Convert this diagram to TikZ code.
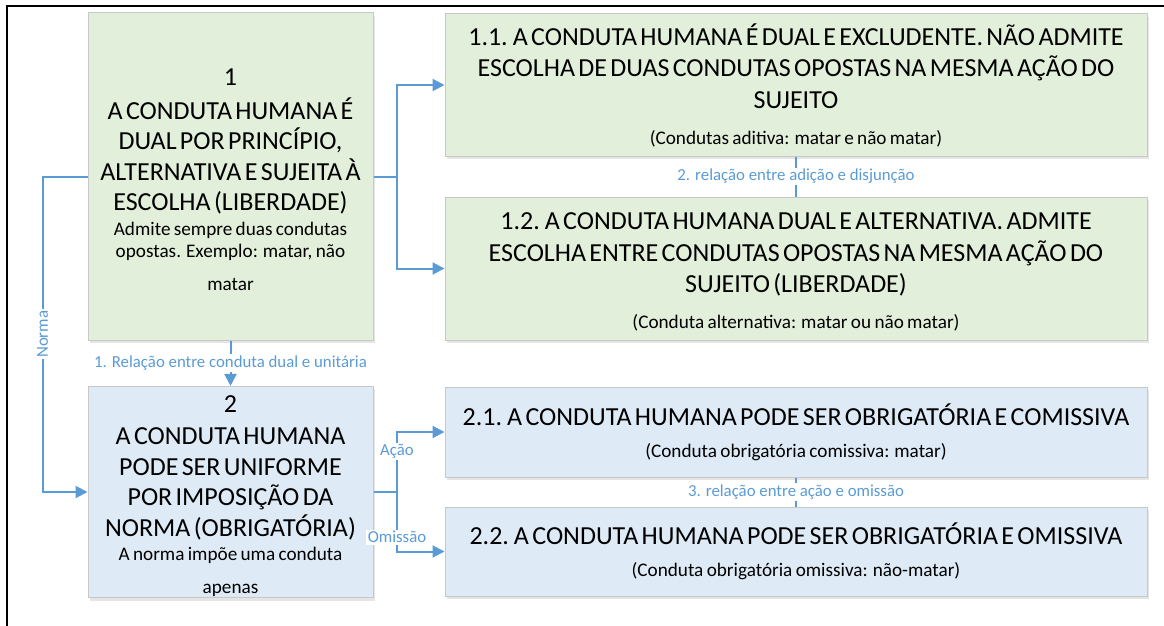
\documentclass[tikz,border=0pt]{standalone}
\usepackage{fontspec}
\setmainfont{Carlito}
\usetikzlibrary{arrows.meta,shadows}
\definecolor{gfill}{HTML}{E2EFDA}
\definecolor{bfill}{HTML}{DEEBF7}
\definecolor{bord}{HTML}{C8C8C8}
\definecolor{conn}{HTML}{5B9BD5}
\newcommand{\bigtxt}{\fontsize{26}{30.5}\selectfont}
\newcommand{\smalltxt}{\fontsize{19.2}{22}\selectfont}
\tikzset{
  boxbase/.style={draw=bord, line width=1pt, inner sep=1pt, align=center,
    drop shadow={shadow xshift=2pt, shadow yshift=-3pt, opacity=0.10, fill=black}},
  gbox/.style={boxbase, fill=gfill},
  bbox/.style={boxbase, fill=bfill},
  conn/.style={draw=conn, line width=2pt},
  arr/.style={conn, -{Triangle[length=12pt,width=12pt]}},
  lbl/.style={text=conn, fill=white, inner sep=1.5pt, font=\fontsize{16.8}{19}\selectfont},
}
\begin{document}
\begin{tikzpicture}[x=1pt,y=-1pt]
\useasboundingbox (0,0) rectangle (1164,626);
\fill[white] (0,0) rectangle (1164,626);
\draw[line width=2.6pt] (7,626) -- (7,6) -- (1164,6);

% main boxes
\node[gbox, minimum width=285pt, minimum height=327pt, text width=281pt] (b1) at (230.5,176.5) {%
  {\bigtxt\rule{0pt}{23pt}1\par\vspace{3.5pt}A CONDUTA HUMANA É\\DUAL POR PRINCÍPIO,\\ALTERNATIVA E SUJEITA À\\ESCOLHA (LIBERDADE)\par}%
  {\smalltxt\vspace{3pt}Admite sempre duas condutas\\opostas. Exemplo: matar, não\\[11pt]matar\par}};

\node[bbox, minimum width=285pt, minimum height=208pt, text width=281pt] (b2) at (230.5,492) {%
  {\bigtxt\rule{0pt}{25.5pt}2\par\vspace{1.5pt}A CONDUTA HUMANA\\PODE SER UNIFORME\\POR IMPOSIÇÃO DA\\NORMA (OBRIGATÓRIA)\par}%
  {\smalltxt\vspace{2pt}A norma impõe uma conduta\\[11pt]apenas\par}};

\node[gbox, minimum width=702pt, minimum height=142pt, text width=698pt] (b11) at (796,85) {%
  {\fontsize{26}{31.5}\selectfont 1.1. A CONDUTA HUMANA É DUAL E EXCLUDENTE. NÃO ADMITE\\ESCOLHA DE DUAS CONDUTAS OPOSTAS NA MESMA AÇÃO DO\\SUJEITO\par}%
  {\smalltxt\vspace{14pt}(Condutas aditiva: matar e não matar)\par}};

\node[gbox, minimum width=702pt, minimum height=143pt, text width=698pt] (b12) at (796,268.5) {%
  {\fontsize{26}{31.5}\selectfont\rule{0pt}{24.5pt}1.2. A CONDUTA HUMANA DUAL E ALTERNATIVA. ADMITE\\ESCOLHA ENTRE CONDUTAS OPOSTAS NA MESMA AÇÃO DO\\SUJEITO (LIBERDADE)\par}%
  {\smalltxt\vspace{14pt}(Conduta alternativa: matar ou não matar)\par}};

\node[bbox, minimum width=702pt, minimum height=90pt, text width=698pt] (b21) at (796,432) {%
  {\bigtxt 2.1. A CONDUTA HUMANA PODE SER OBRIGATÓRIA E COMISSIVA\par}%
  {\smalltxt\vspace{10pt}(Conduta obrigatória comissiva: matar)\par}};

\node[bbox, minimum width=702pt, minimum height=89pt, text width=698pt] (b22) at (796,551.5) {%
  {\bigtxt 2.2. A CONDUTA HUMANA PODE SER OBRIGATÓRIA E OMISSIVA\par}%
  {\smalltxt\vspace{10pt}(Conduta obrigatória omissiva: não-matar)\par}};

% connectors
\draw[arr] (b1.east) -- ++(23.5,0) |- (b11.west);
\draw[arr] (b1.east) -- ++(23.5,0) |- (b12.west);
\draw[arr] (b1.west) -- ++(-45,0) |- node[lbl, pos=0.25, rotate=90] {Norma} (b2.west);
\draw[arr] (b1.south) -- node[lbl, pos=0.5] {1. Relação entre conduta dual e unitária} (b2.north);
\draw[arr] (b2.east) -- ++(23.5,0) |- node[lbl, pos=0.34] {Ação} (b21.west);
\draw[arr] (b2.east) -- ++(23.5,0) |- node[lbl, pos=0.38] {Omissão} (b22.west);
\draw[conn] (b11.south) -- node[lbl] {2. relação entre adição e disjunção} (b12.north);
\draw[conn] (b21.south) -- node[lbl] {3. relação entre ação e omissão} (b22.north);
\end{tikzpicture}
\end{document}
